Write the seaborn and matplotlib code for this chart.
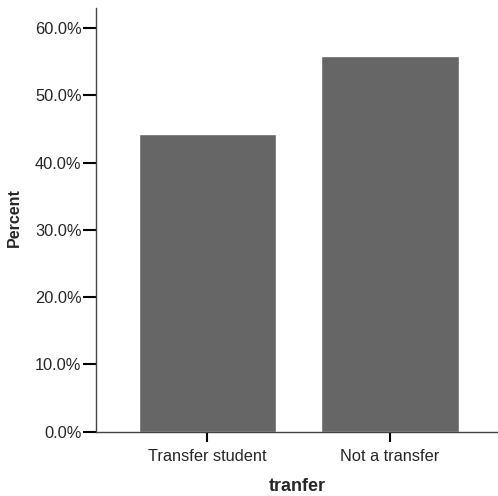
import pandas as pd
import matplotlib
matplotlib.use('Agg')
import matplotlib.pyplot as plt
import seaborn as sns
from matplotlib.ticker import FuncFormatter

# Data
categories = ['Transfer student', 'Not a transfer']
percents = [44.2, 55.8]

df = pd.DataFrame({'tranfer': categories, 'Percent': percents})

sns.set_style('white')
plt.rcParams['font.family'] = ['Liberation Sans', 'DejaVu Sans']

fig = plt.figure(figsize=(4.98, 4.96), dpi=100)
ax = fig.add_axes([0.193, 0.130, 0.807, 0.854])

sns.barplot(data=df, x='tranfer', y='Percent', color='#666666', saturation=1,
            width=0.75, ax=ax)

ax.set_xlim(-0.607, 1.59)
ax.set_ylim(0, 63)
ax.set_yticks([0, 10, 20, 30, 40, 50, 60])
ax.yaxis.set_major_formatter(FuncFormatter(lambda v, p: f'{v:.1f}%'))

for side in ['top', 'right']:
    ax.spines[side].set_visible(False)
for side in ['left', 'bottom']:
    ax.spines[side].set_color('#444444')
    ax.spines[side].set_linewidth(1.0)

ax.tick_params(axis='y', direction='out', length=9.5, width=1.5, color='black',
               labelsize=11.8, pad=1, left=True)
ax.tick_params(axis='x', direction='out', length=7.5, width=1.5, color='black',
               labelsize=11.8, pad=5, bottom=True)

ax.set_xlabel('tranfer', fontsize=13, fontweight='bold', labelpad=10)
ax.set_ylabel('Percent', fontsize=11.5, fontweight='bold')
ax.yaxis.set_label_coords(-(96 - 22) / 402.0, (431.5 - 218) / (431.5 - 8))

plt.savefig('out.png', dpi=100)
plt.close()
